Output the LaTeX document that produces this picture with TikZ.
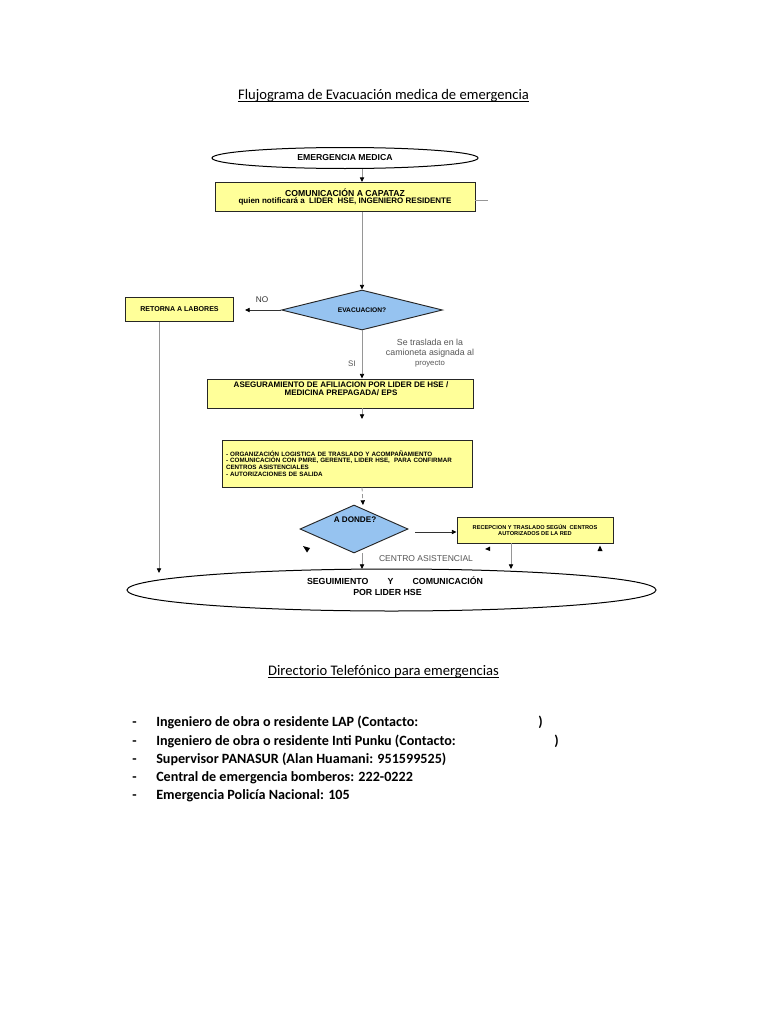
\documentclass[tikz,border=0pt]{standalone}
\usepackage{fontspec}
\setmainfont{Carlito}
\newfontfamily\arialf{Liberation Sans}
\usetikzlibrary{shapes.geometric,arrows.meta}
\definecolor{boxyellow}{RGB}{255,255,153}
\definecolor{dblue}{RGB}{150,195,240}
\definecolor{lgray}{RGB}{150,150,150}
\definecolor{tgray}{RGB}{85,85,85}
\newcommand\pxu{0.75pt}
\newcommand\ff[2]{\arialf\bfseries\fontsize{#1}{#2}\selectfont}
\newcommand\fr[2]{\arialf\fontsize{#1}{#2}\selectfont}
\tikzset{
 ybox/.style={draw=black!85, fill=boxyellow, line width=0.7pt, inner sep=0pt},
 dia/.style={diamond, draw=black!85, fill=dblue, line width=0.7pt, inner sep=0pt},
 oval/.style={ellipse, draw=black, line width=0.75pt, inner sep=0pt, fill=white},
 conn/.style={draw=lgray, line width=0.6pt, -{Triangle[length=3.5pt,width=3.2pt,color=black]}},
 dconn/.style={draw=black!80, line width=0.6pt, -{Triangle[length=3.5pt,width=3.2pt,color=black]}},
 lbl/.style={text=tgray, inner sep=0pt},
 ltext/.style={font=\bfseries\fontsize{10.6}{12}\selectfont, inner sep=0pt, anchor=mid west},
 ttl/.style={font=\fontsize{10.95}{12}\selectfont, inner sep=0pt, anchor=base},
 uline/.style={line width=0.55pt},
 tri/.style={fill=black},
}
\begin{document}
\begin{tikzpicture}[x=0.75pt,y=-0.75pt]
\useasboundingbox[fill=white] (0,0) rectangle (768,1024);

% title
\node[ttl] (t1) at (383.5,99) {Flujograma de Evacuación medica de emergencia};
\draw[uline] ([yshift=-1.9pt]t1.base west) -- ([yshift=-1.9pt]t1.base east);

% flow nodes
\node[oval, minimum width=266*\pxu, minimum height=21*\pxu, font={\ff{6.5}{7}}] (em) at (345,158) {EMERGENCIA MEDICA};
\node[ybox, minimum width=260*\pxu, minimum height=29*\pxu, align=center, font={\ff{6.5}{5.3}}] (b1) at (345,197)
  {COMUNICACIÓN A CAPATAZ\\{\fontsize{6}{5.3}\selectfont quien notificará a \ LIDER \ HSE, INGENIERO RESIDENTE}};
\coordinate (stub) at (488,200);
\draw[lgray, line width=0.5pt] (b1.east |- stub) -- (stub);

\node[dia, minimum width=161*\pxu, minimum height=40*\pxu, aspect=4, font={\ff{5}{6}}] (d1) at (362,310) {EVACUACION?};
\draw[conn] (em.south -| d1.north) -- (b1.north -| d1.north);
\draw[conn] (b1.south -| d1.north) -- (d1.north);

\node[ybox, minimum width=108*\pxu, minimum height=24*\pxu, font={\ff{5.3}{6}}] (ret) at (179.5,309.5) {RETORNA A LABORES};
\node[lbl, font={\fr{6.2}{7}}, text=black!80] (no) at (262,300) {NO};
\coordinate (noend) at (245,310);
\draw[dconn] (d1.west) -- (noend);
\coordinate (rs) at (159,321.5);
\coordinate (re) at (159,573);
\draw[conn] (rs) -- (re);

\node[ybox, minimum width=266*\pxu, minimum height=29*\pxu] (b3) at (340,393.5) {};
\node[font={\ff{6}{6}}, align=center, inner sep=0pt] (b3t) at (341,388.5) {ASEGURAMIENTO DE AFILIACION POR LIDER DE HSE /\\MEDICINA PREPAGADA/ EPS};
\draw[conn] (d1.south) -- (d1.south |- b3.north);
\node[lbl, font={\fr{6}{7}}] (si) at (352,364) {SI};
\node[lbl, align=center, font={\fr{6.6}{7.5}}] (tr) at (430,353) {Se traslada en la\\camioneta asignada al\\{\fontsize{5.8}{7.5}\selectfont proyecto}};

\coordinate (b3a) at (362,419);
\draw[conn] (b3.south -| b3a) -- (b3a);

\node[ybox, minimum width=250*\pxu, minimum height=47*\pxu, font={\ff{4.7}{4.9}}, align=left, text width=242*\pxu] (b4) at (347,463.5)
  {- ORGANIZACIÓN LOGISTICA DE TRASLADO Y ACOMPAÑAMIENTO\\- COMUNICACIÓN CON PMRE, GERENTE, LIDER HSE, \ PARA CONFIRMAR\\CENTROS ASISTENCIALES\\- AUTORIZACIONES DE SALIDA};

\node[dia, minimum width=108*\pxu, minimum height=48*\pxu, aspect=2.2] (d2) at (354,529) {};
\node[font={\ff{6.1}{6}}, inner sep=0pt] (d2t) at (355,520) {A DONDE?};
\coordinate (d2top) at (363,505);
\draw[conn, densely dashed] (b4.south -| b3a) -- (d2top);

\node[ybox, minimum width=156*\pxu, minimum height=26*\pxu, font={\ff{4.25}{4.6}}, align=center] (b5) at (535,530)
  {RECEPCION Y TRASLADO SEGÚN \ CENTROS\\AUTORIZADOS DE LA RED};
\coordinate (d2r) at (415,532);
\draw[dconn] (d2r) -- (b5.west |- d2r);

\node[oval, minimum width=529*\pxu, minimum height=42*\pxu] (fin) at (391.5,590) {};
\node[font={\ff{6.6}{6}}, text width=176*\pxu, inner sep=0pt] (fint1) at (395,580.5) {\noindent SEGUIMIENTO\hfill Y\hfill COMUNICACIÓN};
\node[font={\ff{6.6}{6}}, inner sep=0pt] (fint2) at (387.5,592.5) {POR LIDER HSE};

\coordinate (b5x) at (511,569);
\draw[conn] (b5.south -| b5x) -- (b5x);
\coordinate (d2x) at (362,569);
\draw[conn] (d2.south -| d2x) -- (d2x);
\node[lbl, font={\fr{6.4}{7}}] (ca) at (426,559) {CENTRO ASISTENCIAL};

% stray arrowheads
\fill[tri] (303,546) -- (310,548) -- (307,552.5) -- cycle;
\fill[tri] (485,549) -- (490,546.5) -- (490,551) -- cycle;
\fill[tri] (600,545.5) -- (597.5,551) -- (602.5,551) -- cycle;

% directory
\node[ttl] (t2) at (383.5,675) {Directorio Telefónico para emergencias};
\draw[uline] ([yshift=-1.9pt]t2.base west) -- ([yshift=-1.9pt]t2.base east);

\node[ltext] (l1d) at (132,723) {-};
\node[ltext] (l1) at (156,723) {Ingeniero de obra o residente LAP (Contacto:};
\node[ltext] (l1p) at (538,723) {)};
\node[ltext] (l2d) at (132,742) {-};
\node[ltext] (l2) at (156,742) {Ingeniero de obra o residente Inti Punku (Contacto:};
\node[ltext] (l2p) at (554,742) {)};
\node[ltext] (l3d) at (132,760) {-};
\node[ltext] (l3) at (156,760) {Supervisor PANASUR (Alan Huamani: 951599525)};
\node[ltext] (l4d) at (132,778) {-};
\node[ltext] (l4) at (156,778) {Central de emergencia bomberos: 222-0222};
\node[ltext] (l5d) at (132,796) {-};
\node[ltext] (l5) at (156,796) {Emergencia Policía Nacional: 105};
\end{tikzpicture}
\end{document}
